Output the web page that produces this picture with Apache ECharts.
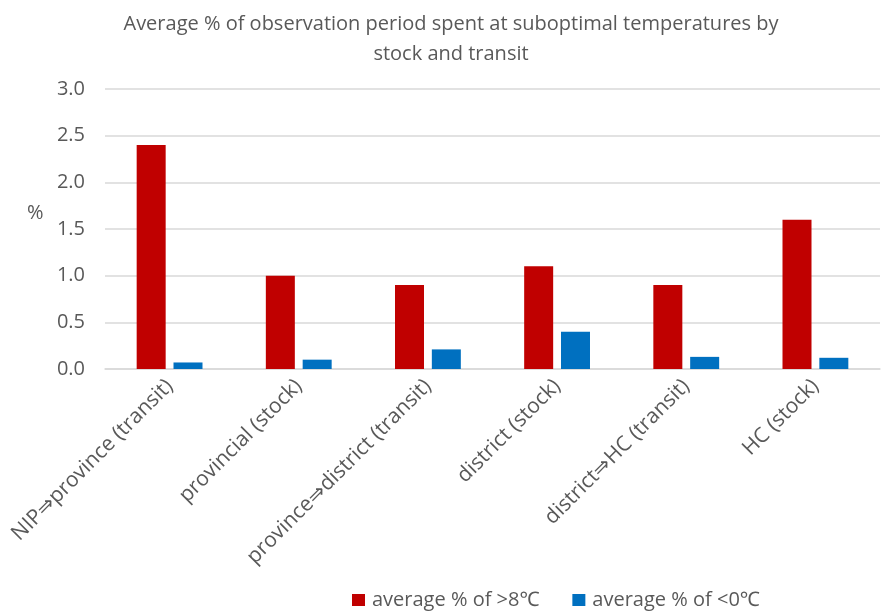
<!DOCTYPE html>
<html><head><meta charset="utf-8">
<script src="https://cdn.jsdelivr.net/npm/echarts@6/dist/echarts.min.js"></script>
<style>html,body{margin:0;padding:0;background:#fff}#c{width:889px;height:611px}</style>
</head><body><div id="c"></div>
<script>
const categories = ["NIP⇒province (transit)", "provincial (stock)", "province⇒district (transit)", "district (stock)", "district⇒HC (transit)", "HC (stock)"];
const hotValues = [2.4, 1.0, 0.9, 1.1, 0.9, 1.6];
const coldValues = [0.07, 0.1, 0.21, 0.4, 0.13, 0.12];
const seriesNames = ["average % of >8℃", "average % of <0℃"];
const titleText = "Average % of observation period spent at suboptimal temperatures by\nstock and transit";
const yAxisName = "%";

const FONT = "'Open Sans', 'Noto Sans', sans-serif";
const chart = echarts.init(document.getElementById('c'));
chart.setOption({
  animation: false,
  title: {
    text: titleText, left: 446, top: 4, textAlign: 'center',
    textStyle: {fontFamily: FONT, fontSize: 20, fontWeight: 'normal', color: '#595959', lineHeight: 30}
  },
  graphic: [{
    type: 'text', left: 27, top: 203,
    style: {text: yAxisName, fontFamily: FONT, fontSize: 20, fill: '#595959'}
  }],
  legend: {
    top: 585, left: 347, itemGap: 33, itemWidth: 13, itemHeight: 12,
    icon: 'rect',
    textStyle: {fontFamily: FONT, fontSize: 20, color: '#595959', padding: [0, 0, 0, 2]}
  },
  grid: {left: 105, right: 9, top: 89, bottom: 242, containLabel: false},
  xAxis: {
    type: 'category', data: categories,
    axisLine: {lineStyle: {color: '#d9d9d9', width: 1.5}},
    axisTick: {show: false},
    axisLabel: {rotate: 45, interval: 0, fontFamily: FONT, fontSize: 21, color: '#595959', margin: 14}
  },
  yAxis: {
    type: 'value', min: 0, max: 3, interval: 0.5,
    axisLine: {show: false}, axisTick: {show: false},
    axisLabel: {fontFamily: FONT, fontSize: 20, color: '#595959', margin: 20, formatter: v => v.toFixed(1)},
    splitLine: {lineStyle: {color: '#d9d9d9', width: 1.5}}
  },
  series: [
    {name: seriesNames[0], type: 'bar', data: hotValues, barWidth: 29, barGap: '27%', itemStyle: {color: '#c00000'}},
    {name: seriesNames[1], type: 'bar', data: coldValues, barWidth: 29, itemStyle: {color: '#0070c0'}}
  ]
});
</script></body></html>
